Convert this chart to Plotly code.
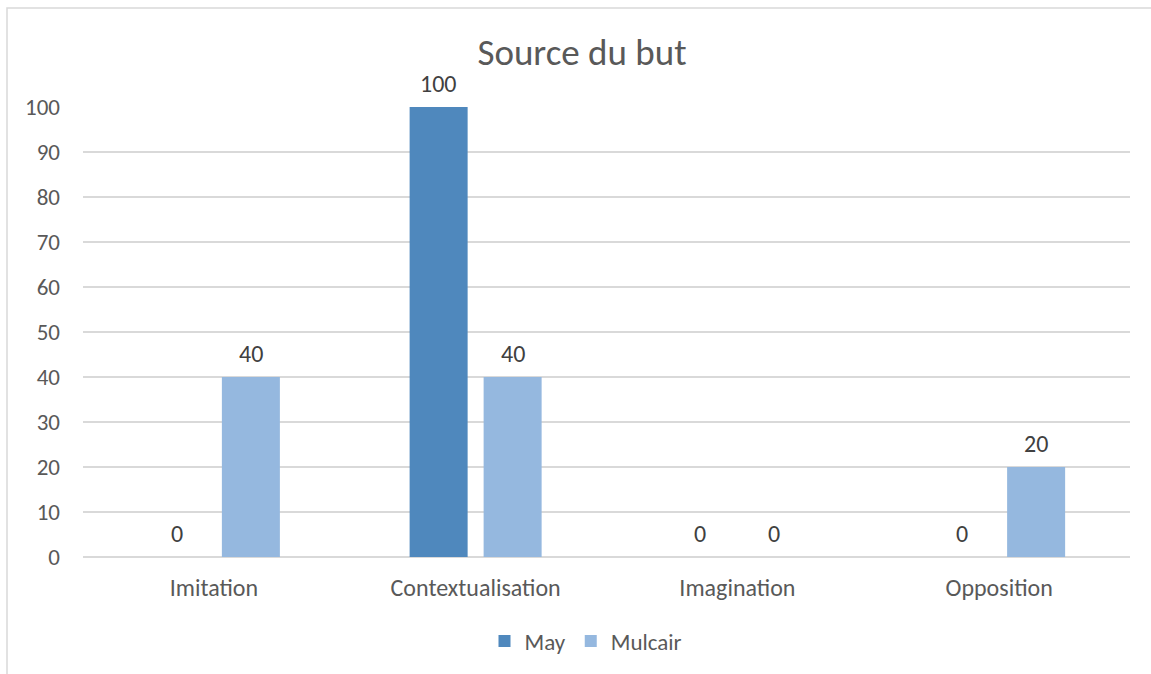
import plotly.graph_objects as go

categories = ["Imitation", "Contextualisation", "Imagination", "Opposition"]
may_values = [0, 100, 0, 0]
mulcair_values = [40, 40, 0, 20]
series_names = ["May", "Mulcair"]
series_colors = ["#4f88bd", "#95b8df"]
title_text = "Source du but"

W, H = 1151, 674
L, R, T, B = 83, 21, 107, 117
plot_w = W - L - R
plot_h = H - T - B

font_family = "Carlito, Calibri, 'Open Sans', sans-serif"
text_color = "#595959"
grid_color = "#d9d9d9"

BAR_OFFSET = 37  # horizontal distance (px) from category centre to each bar centre

fig = go.Figure()
for idx, (name, vals, color) in enumerate(
        zip(series_names, [may_values, mulcair_values], series_colors)):
    fig.add_trace(go.Bar(
        x=categories, y=vals, name=name,
        marker=dict(color=color, line=dict(width=0)),
        cliponaxis=False,
    ))
    # value labels above each bar
    shift = -BAR_OFFSET if idx == 0 else BAR_OFFSET
    for cat, v in zip(categories, vals):
        fig.add_annotation(
            x=cat, y=v, xref="x", yref="y", text=str(v), showarrow=False,
            xshift=shift, yshift=24, yanchor="middle", xanchor="center",
            font=dict(size=24, color="#404040", family=font_family),
        )

# outer chart frame (top and left edges visible)
fig.add_shape(
    type="rect", xref="paper", yref="paper",
    x0=(7 - L) / plot_w, x1=(W + 20 - L) / plot_w,
    y0=-(H + 20 - T - plot_h) / plot_h, y1=(T + plot_h - 8) / plot_h,
    line=dict(color=grid_color, width=1.5), fillcolor="rgba(0,0,0,0)",
    layer="below",
)

fig.update_layout(
    width=W, height=H,
    margin=dict(l=L, r=R, t=T, b=B, autoexpand=False),
    paper_bgcolor="white", plot_bgcolor="white",
    font=dict(family=font_family, color=text_color, size=23),
    title=dict(text=title_text, x=582 / W, xanchor="center", xref="container",
               y=1 - 52 / H, yanchor="middle", yref="container",
               font=dict(size=37, color=text_color, family=font_family)),
    barmode="group", bargap=0.4346, bargroupgap=0.216,
    showlegend=True,
    legend=dict(orientation="h", x=(586 - L) / plot_w, xanchor="center",
                y=1 - 641 / H, yanchor="middle", yref="container",
                font=dict(size=23, color=text_color, family=font_family),
                itemwidth=30, traceorder="normal"),
    xaxis=dict(showgrid=False, showline=False, ticks="",
               tickfont=dict(size=24, color=text_color),
               ticklabelstandoff=14),
    yaxis=dict(range=[0, 100], dtick=10, showgrid=True, gridcolor=grid_color,
               gridwidth=1.5, zeroline=True, zerolinecolor=grid_color,
               zerolinewidth=1.5, showline=False, ticks="",
               tickfont=dict(size=23, color=text_color),
               ticklabelstandoff=22),
)

fig.write_html("out.html")
